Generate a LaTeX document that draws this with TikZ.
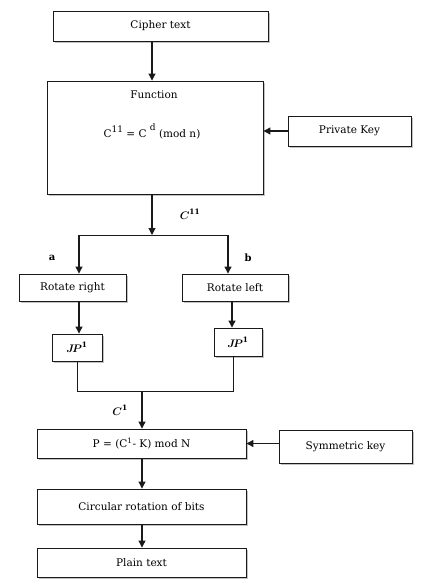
\documentclass[tikz,border=0pt]{standalone}
\usepackage{amsmath,amssymb,fontspec}
\usetikzlibrary{arrows.meta,shadows}
\setmainfont{DejaVu Serif}
\definecolor{ink}{HTML}{1A1A1A}
\definecolor{shade}{HTML}{9A9A9A}

\begin{document}
\begin{tikzpicture}[>={Triangle[length=7pt,width=7pt]},x=1pt,y=-1pt,
  font=\fontsize{10.5}{12}\selectfont,
  box/.style={draw=ink,line width=0.9pt,fill=white,inner sep=0pt,
    drop shadow={shadow xshift=1.6pt,shadow yshift=-1.6pt,fill=shade,opacity=0.6}},
  flow/.style={->,draw=ink,line width=1.1pt},
  link/.style={draw=ink,line width=0.9pt}]
\useasboundingbox (0,0) rectangle (429,588);
\node[box,minimum width=215,minimum height=30] (cipher) at (160.5,26) {Cipher text};
\node[box,minimum width=216,minimum height=113] (func) at (155,137.5) {};
\node (functitle) at (154,95) {Function};
\node (formula) at (152,131) {C\raisebox{5pt}{\small 11} = C \raisebox{7pt}{\small d} (mod n)};
\node[box,minimum width=123,minimum height=30] (privkey) at (349.5,131) {Private Key};
\draw[flow] ([xshift=-8.5pt]cipher.south) -- ([xshift=-8.5pt]cipher.south |- func.north);
\draw[flow] (privkey.west) -- (privkey.west -| func.east);
% split into the two rotations
\coordinate (split) at (152,235);
\coordinate (brl) at (79,235);
\coordinate (brr) at (228,235);
\draw[flow] (split |- func.south) -- (split);
\node (c11) at (190,214) {$\boldsymbol{C}^{\mathbf{11}}$};
\draw[link] (brl) -- (brr);
\node[box,minimum width=107,minimum height=27] (rotr) at (72.5,287.5) {Rotate right};
\node[box,minimum width=106,minimum height=27] (rotl) at (235,287.5) {Rotate left};
\draw[flow] (brl) -- (brl |- rotr.north);
\draw[flow] (brr) -- (brr |- rotl.north);
\node[font=\bfseries] (lbla) at (52,258) {a};
\node[font=\bfseries] (lblb) at (248,258) {b};
\node[box,minimum width=50,minimum height=27] (jpl) at (77,347.5) {$\boldsymbol{J\!P}^{\mathbf{1}}$};
\node[box,minimum width=48,minimum height=28] (jpr) at (238,342) {$\boldsymbol{J\!P}^{\mathbf{1}}$};
\coordinate (brr2) at (232,300);
\draw[flow] (brl |- rotr.south) -- (brl |- jpl.north);
\draw[flow] (brr2 |- rotl.south) -- (brr2 |- jpr.north);
% merge back
\coordinate (merge) at (142,391);
\draw[link] ([xshift=0pt]jpl.south) -- (jpl.south |- merge) -- ([xshift=-5pt]jpr.south |- merge) -- ([xshift=-5pt]jpr.south);
\node[box,minimum width=209,minimum height=29] (pbox) at (141.5,443.5) {P = (C\textsuperscript{1}- K) mod N};
\node[box,minimum width=133,minimum height=33] (symkey) at (345.5,446.5) {Symmetric key};
\draw[flow] (merge) -- (merge |- pbox.north);
\node (c1) at (120,410) {$\boldsymbol{C}^{\mathbf{1}}$};
\draw[flow] (symkey.west |- pbox.east) -- (pbox.east);
\node[box,minimum width=209,minimum height=35] (circ) at (141.5,506.5) {Circular rotation of bits};
\node[box,minimum width=209,minimum height=29] (plain) at (141.5,562.5) {Plain text};
\draw[flow] (merge |- pbox.south) -- (merge |- circ.north);
\draw[flow] (merge |- circ.south) -- (merge |- plain.north);
\end{tikzpicture}
\end{document}
